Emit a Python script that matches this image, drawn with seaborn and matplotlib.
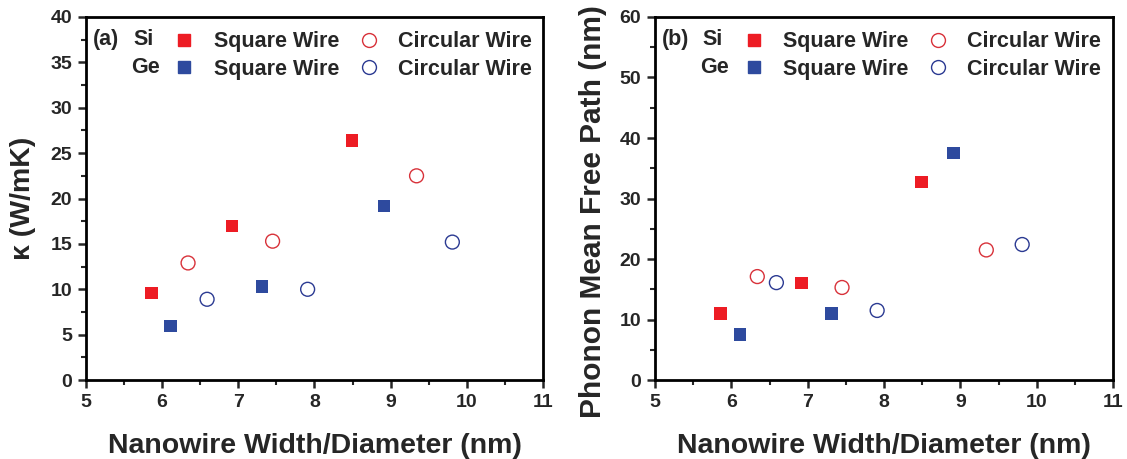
import numpy as np
import pandas as pd
import seaborn as sns
import matplotlib.pyplot as plt
from matplotlib.lines import Line2D
from matplotlib.ticker import MultipleLocator

# nanowire width / diameter (nm)
width_si_sq = [5.86, 6.92, 8.49]
width_si_circ = [6.34, 7.45, 9.34]
width_ge_sq = [6.11, 7.31, 8.91]
width_ge_circ = [6.59, 7.91, 9.81]

# thermal conductivity (W/mK)
kappa_si_sq = [9.6, 17.0, 26.4]
kappa_si_circ = [12.9, 15.3, 22.5]
kappa_ge_sq = [5.95, 10.3, 19.2]
kappa_ge_circ = [8.9, 10.0, 15.2]

# phonon mean free path (nm)
mfp_si_sq = [11.0, 16.0, 32.7]
mfp_si_circ = [17.1, 15.3, 21.5]
mfp_ge_sq = [7.5, 11.0, 37.5]
mfp_ge_circ = [16.1, 11.5, 22.4]

sns.set_style("ticks")
plt.rcParams['font.family'] = ['Liberation Sans', 'DejaVu Sans']
plt.rcParams['font.weight'] = 'bold'
plt.rcParams['axes.labelweight'] = 'bold'

RED = '#ED1C24'
BLUE = '#2E4A9E'
RED_EDGE = '#D8323A'
BLUE_EDGE = '#2B3A92'

fig = plt.figure(figsize=(11.27, 4.59), dpi=100)
ax1 = fig.add_axes([0.0763, 0.172, 0.4055, 0.791])
ax2 = fig.add_axes([0.5812, 0.172, 0.4064, 0.791])


def draw_panel(ax, ys, ymax, ymajor, yminor, ylabel, tag, ypad):
    si_sq, si_circ, ge_sq, ge_circ = ys
    sns.scatterplot(x=width_si_sq, y=si_sq, marker='s', s=80, color=RED,
                    edgecolor='none', ax=ax, zorder=3)
    sns.scatterplot(x=width_ge_sq, y=ge_sq, marker='s', s=80, color=BLUE,
                    edgecolor='none', ax=ax, zorder=3)
    sns.scatterplot(x=width_si_circ, y=si_circ, marker='o', s=100,
                    facecolor='none', edgecolor=RED_EDGE, linewidth=1.0, ax=ax, zorder=3)
    sns.scatterplot(x=width_ge_circ, y=ge_circ, marker='o', s=100,
                    facecolor='none', edgecolor=BLUE_EDGE, linewidth=1.0, ax=ax, zorder=3)

    ax.set_xlim(5, 11)
    ax.set_ylim(0, ymax)
    ax.xaxis.set_major_locator(MultipleLocator(1))
    ax.xaxis.set_minor_locator(MultipleLocator(0.5))
    ax.yaxis.set_major_locator(MultipleLocator(ymajor))
    ax.yaxis.set_minor_locator(MultipleLocator(yminor))
    ax.tick_params(which='major', direction='out', length=6, width=1.8,
                   labelsize=14, top=False, right=False, pad=4)
    ax.tick_params(which='minor', direction='out', length=3.5, width=1.5,
                   top=False, right=False)
    for sp in ax.spines.values():
        sp.set_linewidth(2)
        sp.set_color('black')
    ax.set_xlabel('Nanowire Width/Diameter (nm)', fontsize=20.5, labelpad=16)
    ax.set_ylabel(ylabel, fontsize=20.5, labelpad=ypad)

    handles = [
        Line2D([], [], marker='s', ls='none', color=RED, markersize=9),
        Line2D([], [], marker='s', ls='none', color=BLUE, markersize=9),
        Line2D([], [], marker='o', ls='none', markerfacecolor='none',
               markeredgecolor=RED_EDGE, markersize=10),
        Line2D([], [], marker='o', ls='none', markerfacecolor='none',
               markeredgecolor=BLUE_EDGE, markersize=10),
    ]
    labels = ['Square Wire', 'Square Wire', 'Circular Wire', 'Circular Wire']
    ax.legend(handles, labels, ncol=2, loc='upper left', bbox_to_anchor=(0.192, 0.961),
              frameon=False, handlelength=1.0, handletextpad=0.85,
              columnspacing=0.9, labelspacing=0.3, borderpad=0, borderaxespad=0,
              prop={'weight': 'bold', 'size': 15.5})
    ax.text(0.015, 0.939, tag, transform=ax.transAxes, fontsize=15.5,
            fontweight='bold', va='center', ha='left')
    ax.text(0.103, 0.939, 'Si', transform=ax.transAxes, fontsize=15.5,
            fontweight='bold', va='center', ha='left')
    ax.text(0.098, 0.862, 'Ge', transform=ax.transAxes, fontsize=15.5,
            fontweight='bold', va='center', ha='left')


draw_panel(ax1, (kappa_si_sq, kappa_si_circ, kappa_ge_sq, kappa_ge_circ),
           40, 5, 2.5, 'κ (W/mK)', '(a)', 10)
draw_panel(ax2, (mfp_si_sq, mfp_si_circ, mfp_ge_sq, mfp_ge_circ),
           60, 10, 5, 'Phonon Mean Free Path (nm)', '(b)', 7)
ax2.yaxis.label.set_fontsize(21.5)
ax2.yaxis.set_label_coords(-0.105, 0.463)

fig.savefig('out.png', dpi=100)
